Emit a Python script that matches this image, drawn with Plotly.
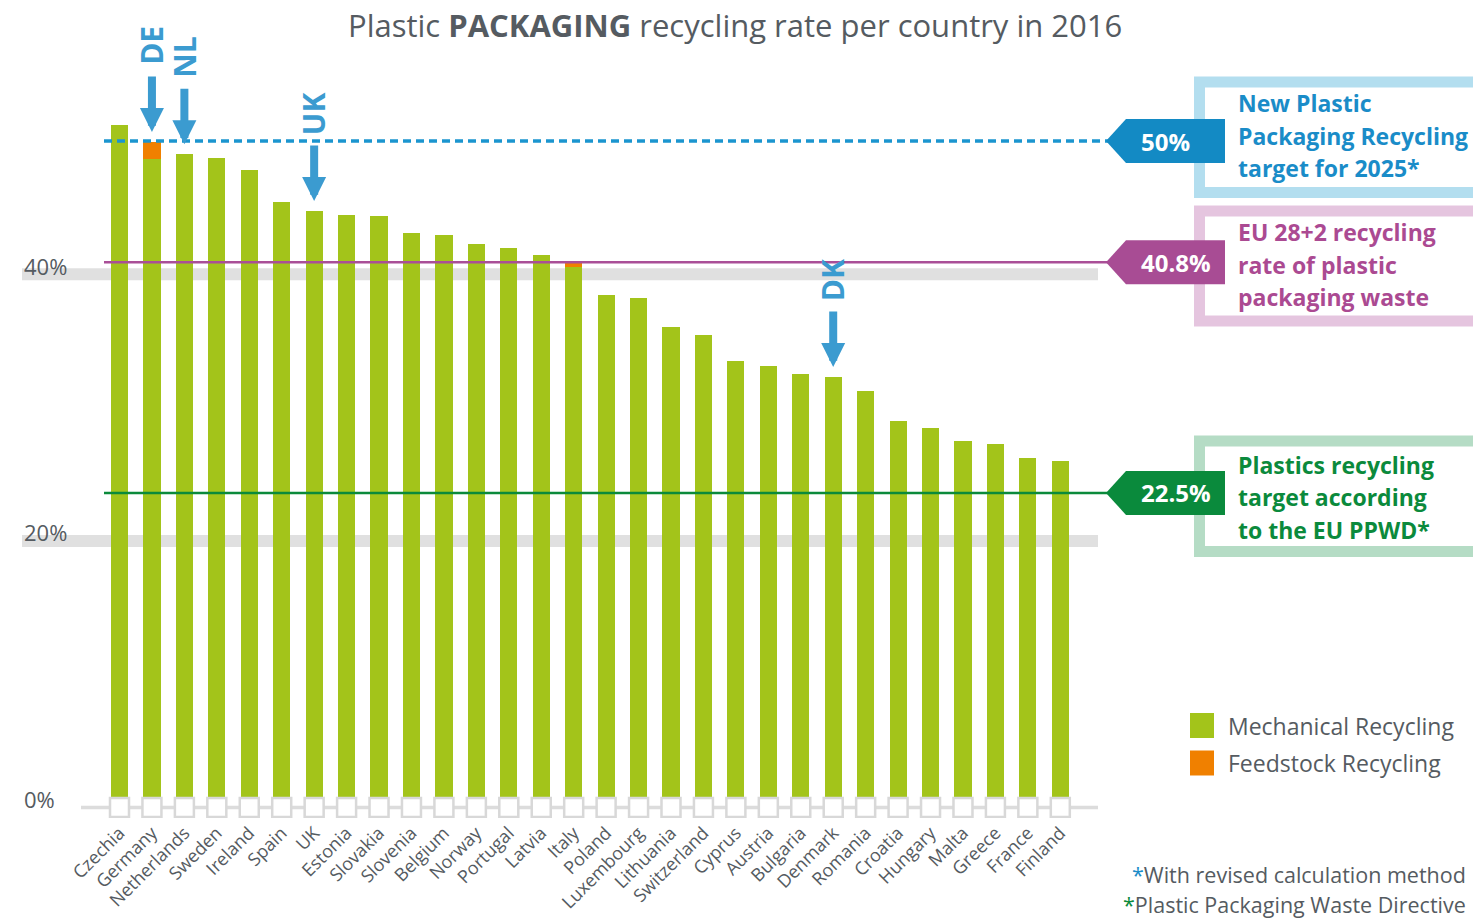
import plotly.graph_objects as go

# ---------------- data ----------------
countries = ["Czechia", "Germany", "Netherlands", "Sweden", "Ireland", "Spain", "UK",
             "Estonia", "Slovakia", "Slovenia", "Belgium", "Norway", "Portugal", "Latvia",
             "Italy", "Poland", "Luxembourg", "Lithuania", "Switzerland", "Cyprus", "Austria",
             "Bulgaria", "Denmark", "Romania", "Croatia", "Hungary", "Malta", "Greece",
             "France", "Finland"]
mechanical = [51.2, 48.65, 49.0, 48.7, 47.8, 45.4, 44.75, 44.45, 44.4, 43.1, 42.95, 42.3, 42.0,
              41.45, 40.55, 38.45, 38.2, 36.05, 35.45, 33.5, 33.1, 32.5, 32.3, 31.25, 29.0, 28.5,
              27.5, 27.25, 26.2, 26.0]
feedstock = [0, 1.28, 0, 0, 0, 0, 0, 0, 0, 0, 0, 0, 0, 0, 0.3, 0, 0, 0, 0, 0, 0, 0, 0, 0,
             0, 0, 0, 0, 0, 0]
series_names = ["Mechanical Recycling", "Feedstock Recycling"]

highlight_countries = ["Germany", "Netherlands", "UK", "Denmark"]
highlight_labels = ["DE", "NL", "UK", "DK"]

target_labels = ["50%", "40.8%", "22.5%"]
target_line_y = [50.0, 40.9, 23.6]
target_texts = [["New Plastic", "Packaging Recycling", "target for 2025*"],
                ["EU 28+2 recycling", "rate of plastic", "packaging waste"],
                ["Plastics recycling", "target according", "to the EU PPWD*"]]

y_tick_vals = [0, 20, 40]
y_tick_text = ["0%", "20%", "40%"]

title_text = "Plastic <b>PACKAGING</b> recycling rate per country in 2016"
footnotes = ["With revised calculation method", "Plastic Packaging Waste Directive"]

# ---------------- styling ----------------
W, H = 1473, 920
L, R, T, B = 22, 1098, 60, 818
GREEN = "#a3c41a"
ORANGE = "#f08000"
GRAY = "#555b61"
ARROW = "#3b9bd0"
FONT = "Open Sans"

line_colors = ["#1b95cf", "#a94f97", "#0b8a3b"]
tag_colors = ["#138ac4", "#a84c94", "#0a8a3c"]
box_colors = ["#b3deef", "#e5c5df", "#b5dcc5"]
text_colors = ["#1a8cc8", "#ab4a92", "#0b8a3c"]
line_dash = ["8px,5px", "solid", "solid"]
line_width = [3.5, 2.5, 2.5]
box_tops = [82, 211, 441]
box_bottoms = [192.5, 321, 551.5]
text_first_line = [103, 232, 465]
text_line_gap = 32.5


def px(x):
    return (x - L) / (R - L)


def py(y):
    return (B - y) / (B - T)


ppu = 13.33  # pixels per percent
y_range = [(807.5 - B) / ppu, (807.5 - T) / ppu]
pitch = (1060.3 - 119.5) / 29
x_range = [(L - 119.5) / pitch, (R - 119.5) / pitch]

fig = go.Figure()
fig.add_trace(go.Bar(x=countries, y=mechanical, name=series_names[0],
                     marker=dict(color=GREEN, line=dict(width=0)), width=0.53))
fig.add_trace(go.Bar(x=countries, y=feedstock, name=series_names[1],
                     marker=dict(color=ORANGE, line=dict(width=0)), width=0.53))
fig.add_trace(go.Scatter(x=countries, y=[0] * len(countries), mode="markers",
                         marker=dict(symbol="square", size=19, color="white",
                                     line=dict(color="#d8d8d8", width=2.5)),
                         hoverinfo="skip"))

shapes = []
for v in y_tick_vals[1:]:
    shapes.append(dict(type="rect", xref="paper", yref="y", x0=0, x1=1,
                       y0=v - 0.45, y1=v + 0.45, fillcolor="#e0e0e0",
                       line=dict(width=0), layer="below"))
shapes.append(dict(type="line", xref="paper", yref="y", x0=px(81), x1=1, y0=0, y1=0,
                   line=dict(color="#dcdcdc", width=3.5), layer="below"))

for i in range(3):
    shapes.append(dict(type="line", xref="paper", yref="y", x0=px(104), x1=px(1110),
                       y0=target_line_y[i], y1=target_line_y[i],
                       line=dict(color=line_colors[i], width=line_width[i], dash=line_dash[i])))
    shapes.append(dict(type="rect", xref="paper", yref="paper", x0=px(1199.5), x1=px(1500),
                       y0=py(box_bottoms[i]), y1=py(box_tops[i]),
                       line=dict(color=box_colors[i], width=11), fillcolor="white"))

annotations = []
for i in range(3):
    ty = 807.5 - target_line_y[i] * ppu
    pts = [(1106, ty), (1126, ty - 22), (1225, ty - 22), (1225, ty + 22), (1126, ty + 22)]
    path = "M " + " L ".join(f"{px(a):.5f},{py(b):.5f}" for a, b in pts) + " Z"
    shapes.append(dict(type="path", xref="paper", yref="paper", path=path,
                       fillcolor=tag_colors[i], line=dict(width=0)))
    annotations.append(dict(xref="paper", yref="y", x=px(1139), y=target_line_y[i],
                            xanchor="left", yanchor="middle", text=f"<b>{target_labels[i]}</b>",
                            showarrow=False, font=dict(family=FONT, size=24, color="white")))
    for j, line in enumerate(target_texts[i]):
        annotations.append(dict(xref="paper", yref="paper", x=px(1236),
                                y=py(text_first_line[i] + j * text_line_gap),
                                xanchor="left", yanchor="middle", align="left",
                                text=f"<b>{line}</b>", showarrow=False,
                                font=dict(family=FONT, size=23, color=text_colors[i])))

# y tick labels
for v, t in zip(y_tick_vals, y_tick_text):
    annotations.append(dict(xref="paper", yref="y", x=0, y=v, yshift=8.5,
                            xanchor="left", yanchor="middle", text=t, showarrow=False,
                            font=dict(family=FONT, size=22, color=GRAY)))

# highlight arrows & labels
for c, lab in zip(highlight_countries, highlight_labels):
    idx = countries.index(c)
    top = mechanical[idx] + feedstock[idx]
    annotations.append(dict(x=c, y=top, yshift=10, ax=0, ay=-57, axref="pixel", ayref="pixel",
                            text="", showarrow=True, arrowhead=2, arrowwidth=8,
                            arrowsize=0.6, arrowcolor=ARROW, standoff=0))
    annotations.append(dict(x=c, y=top, yshift=97, text=f"<b>{lab}</b>", textangle=-90,
                            showarrow=False, xanchor="center", yanchor="middle",
                            font=dict(family=FONT, size=30, color=ARROW)))

# legend (manual)
leg_y = [725.5, 763]
for i, col in enumerate([GREEN, ORANGE]):
    shapes.append(dict(type="rect", xref="paper", yref="paper", x0=px(1190), x1=px(1214),
                       y0=py(leg_y[i] + 12.5), y1=py(leg_y[i] - 12.5), fillcolor=col,
                       line=dict(width=0)))
    annotations.append(dict(xref="paper", yref="paper", x=px(1226), y=py(leg_y[i]),
                            xanchor="left", yanchor="middle", text=series_names[i],
                            showarrow=False, font=dict(family=FONT, size=23, color=GRAY)))

# footnotes (right-aligned so they stay inside the page)
foot_y = [874, 905]
star_cols = ["#1a8cc8", "#0b8a3c"]
for i in range(2):
    annotations.append(dict(xref="paper", yref="paper", x=px(1467), y=py(foot_y[i]),
                            xanchor="right", yanchor="middle", borderpad=0,
                            text=f"<span style='color:{star_cols[i]}'>*</span>{footnotes[i]}",
                            showarrow=False, font=dict(family=FONT, size=21.5, color=GRAY)))

# title
annotations.append(dict(xref="paper", yref="paper", x=px(735), y=py(25), xanchor="center",
                        yanchor="middle", text=title_text, showarrow=False,
                        font=dict(family=FONT, size=31, color=GRAY)))

fig.update_layout(
    width=W, height=H,
    margin=dict(l=L, r=W - R, t=T, b=H - B, pad=0, autoexpand=False),
    plot_bgcolor="white", paper_bgcolor="white",
    barmode="stack", showlegend=False,
    shapes=shapes, annotations=annotations,
    xaxis=dict(type="category", range=x_range, tickangle=-45, showgrid=False,
               showline=False, zeroline=False, ticks="", automargin=False,
               tickfont=dict(family=FONT, size=18, color=GRAY), fixedrange=True),
    yaxis=dict(range=y_range, showticklabels=False, showgrid=False, zeroline=False,
               showline=False, fixedrange=True, automargin=False),
)

fig.write_html("out.html", config={"displayModeBar": False},
               post_script="document.body.style.margin='0';document.body.style.overflow='hidden';")
